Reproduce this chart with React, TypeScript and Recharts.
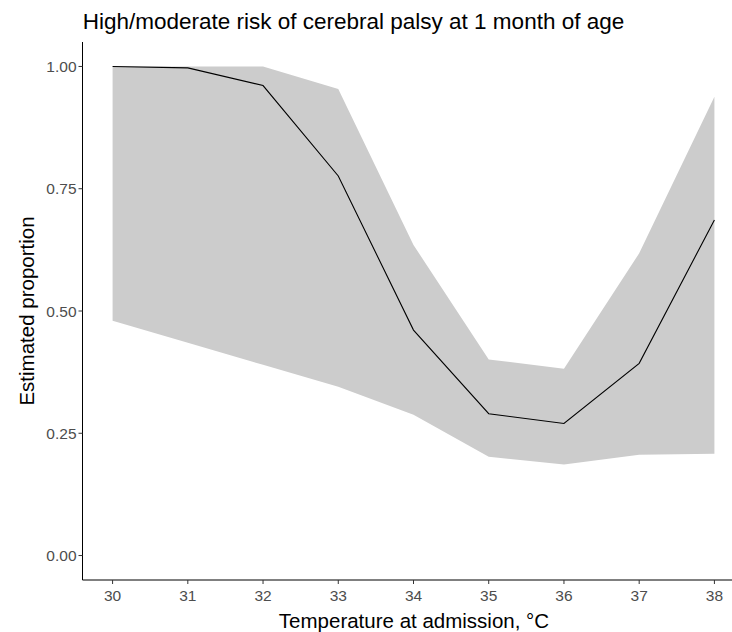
import React from 'react';
import { ComposedChart, Area, Line, XAxis, YAxis } from 'recharts';

const temperatures = [30, 31, 32, 33, 34, 35, 36, 37, 38];
const estimate = [1.0, 0.997, 0.961, 0.776, 0.461, 0.29, 0.27, 0.393, 0.686];
const lowerCI = [0.48, 0.435, 0.39, 0.345, 0.288, 0.202, 0.186, 0.206, 0.208];
const upperCI = [1.0, 1.0, 1.0, 0.954, 0.635, 0.401, 0.382, 0.618, 0.938];
const xTicks = [30, 31, 32, 33, 34, 35, 36, 37, 38];
const yTicks = [0, 0.25, 0.5, 0.75, 1.0];

const data = temperatures.map((t, i) => ({
  temp: t,
  est: estimate[i],
  band: [lowerCI[i], upperCI[i]],
}));

const FONT = '"Liberation Sans", Arial, sans-serif';

export default function App() {
  return (
    <div style={{ position: 'absolute', left: 0, top: 0, width: 732, height: 632, overflow: 'hidden', background: '#fff' }}>
      <ComposedChart
        width={760}
        height={632}
        data={data}
        margin={{ top: 42, right: 15.5, bottom: 22, left: 22.5 }}
      >
        <XAxis
          dataKey="temp"
          type="number"
          domain={[29.6, 38.4]}
          ticks={xTicks}
          allowDataOverflow
          height={30}
          tickSize={4}
          tickMargin={6}
          axisLine={{ stroke: '#000', strokeWidth: 1 }}
          tickLine={{ stroke: '#333', strokeWidth: 1 }}
          tick={{ fill: '#4d4d4d', fontSize: 15.5, fontFamily: FONT }}
        />
        <YAxis
          type="number"
          domain={[-0.05, 1.05]}
          ticks={yTicks}
          allowDataOverflow
          width={60}
          tickSize={4}
          tickMargin={2}
          tickFormatter={(v: number) => v.toFixed(2)}
          axisLine={{ stroke: '#000', strokeWidth: 1 }}
          tickLine={{ stroke: '#333', strokeWidth: 1 }}
          tick={{ fill: '#4d4d4d', fontSize: 15.5, fontFamily: FONT }}
        />
        <Area
          dataKey="band"
          type="linear"
          stroke="none"
          fill="#cccccc"
          fillOpacity={1}
          isAnimationActive={false}
          dot={false}
          activeDot={false}
        />
        <Line
          dataKey="est"
          type="linear"
          stroke="#000"
          strokeWidth={1.1}
          dot={false}
          activeDot={false}
          isAnimationActive={false}
        />
      </ComposedChart>
      <svg
        width={732}
        height={632}
        style={{ position: 'absolute', left: 0, top: 0, pointerEvents: 'none' }}
      >
        <text x={82.7} y={28.5} fontSize={22.5} fontFamily={FONT} fill="#000">
          High/moderate risk of cerebral palsy at 1 month of age
        </text>
        <text x={414} y={628} fontSize={20.5} fontFamily={FONT} fill="#000" textAnchor="middle">
          Temperature at admission, °C
        </text>
        <text
          x={34}
          y={311}
          fontSize={20.5}
          fontFamily={FONT}
          fill="#000"
          textAnchor="middle"
          transform="rotate(-90, 34, 311)"
        >
          Estimated proportion
        </text>
      </svg>
    </div>
  );
}
